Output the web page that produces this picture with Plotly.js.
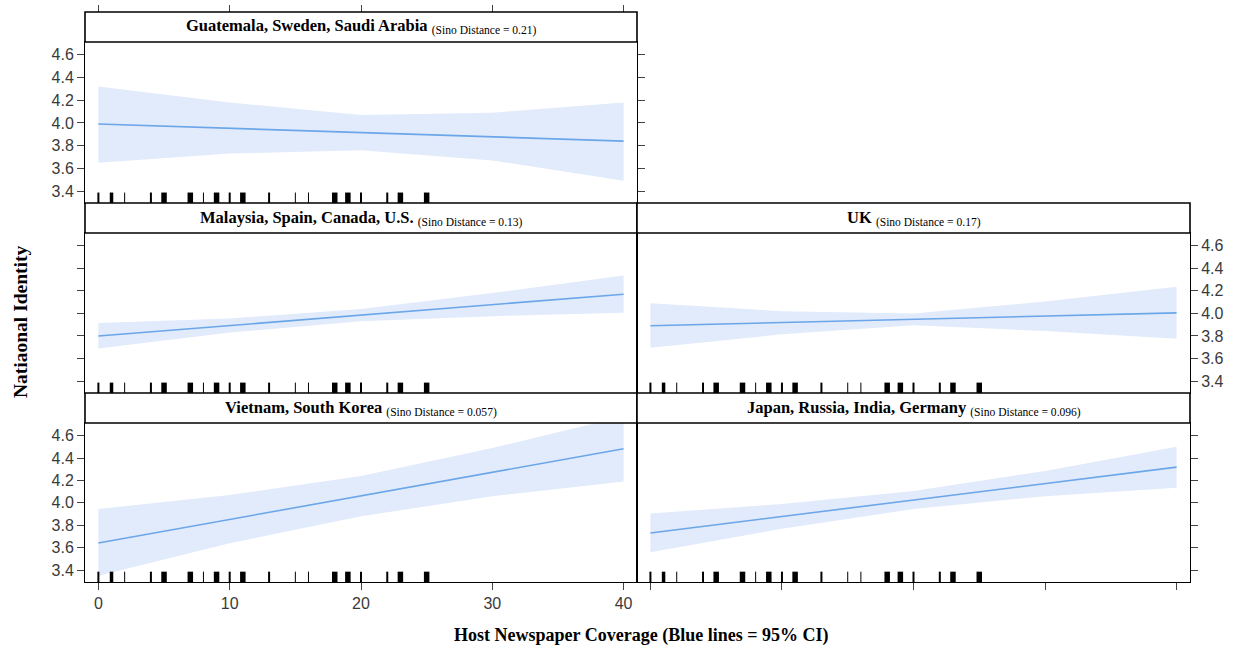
<!DOCTYPE html>
<html>
<head>
<meta charset="utf-8">
<script src="https://cdn.plot.ly/plotly-3.0.1.min.js"></script>
<style>html,body{margin:0;padding:0;background:#fff;}#chart{width:1241px;height:649px;}</style>
</head>
<body>
<div id="chart"></div>
<script>
// ---- data ----
const xLevels = [0, 10, 20, 30, 40];
const yTicks = [3.4, 3.6, 3.8, 4.0, 4.2, 4.4, 4.6];
const xTicks = [0, 10, 20, 30, 40];

const panelNames = ["Guatemala, Sweden, Saudi Arabia", "Malaysia, Spain, Canada, U.S.", "UK", "Vietnam, South Korea", "Japan, Russia, India, Germany"];
const sinoDistance = ["0.21", "0.13", "0.17", "0.057", "0.096"];

const guatFit = [3.99, 3.952, 3.915, 3.877, 3.84];
const guatLo  = [3.65, 3.73, 3.76, 3.67, 3.49];
const guatHi  = [4.32, 4.18, 4.07, 4.09, 4.18];

const malFit = [3.80, 3.893, 3.985, 4.078, 4.17];
const malLo  = [3.69, 3.83, 3.93, 3.975, 4.005];
const malHi  = [3.915, 3.955, 4.04, 4.18, 4.335];

const ukFit = [3.89, 3.919, 3.948, 3.976, 4.005];
const ukLo  = [3.695, 3.815, 3.895, 3.845, 3.775];
const ukHi  = [4.09, 4.02, 4.0, 4.105, 4.235];

const vnFit = [3.643, 3.853, 4.063, 4.272, 4.482];
const vnLo  = [3.35, 3.64, 3.88, 4.06, 4.19];
const vnHi  = [3.945, 4.07, 4.24, 4.49, 4.77];

const jpFit = [3.732, 3.879, 4.026, 4.172, 4.319];
const jpLo  = [3.56, 3.77, 3.945, 4.06, 4.135];
const jpHi  = [3.905, 3.99, 4.105, 4.285, 4.50];

// rug: observed coverage values and approximate number of observations at each
const rugX = [0, 1, 2, 4, 5, 7, 8, 9, 10, 11, 13, 15, 16, 18, 19, 20, 22, 23, 25];
const rugN = [2, 3, 1, 2, 6, 6, 1, 6, 2, 6, 2, 1, 1, 6, 6, 2, 2, 6, 6];

// ---- layout geometry ----
const W = 1241, H = 649;
const colL = [85 / W, 637 / W];
const colR = [637 / W, 1190 / W];
const rowTop = [(H - 203) / H, (H - 42) / H];
const rowMid = [(H - 393) / H, (H - 233) / H];
const rowBot = [(H - 582) / H, (H - 423) / H];
const stripH = 30 / H;
const xRange = [-1.02, 41.02];
const yRange = [3.295, 4.712];

const fitColor = '#6aa6e8';
const bandColor = '#e2ebfb';
const tickFont = {family: 'Liberation Sans, Arial, sans-serif', size: 16, color: '#3a3a3a'};
const serif = 'Liberation Serif, Times New Roman, serif';

const panels = [
  {fit: guatFit, lo: guatLo, hi: guatHi, xa: 'x', ya: 'y', col: colL, row: rowTop},
  {fit: malFit, lo: malLo, hi: malHi, xa: 'x2', ya: 'y2', col: colL, row: rowMid},
  {fit: ukFit, lo: ukLo, hi: ukHi, xa: 'x3', ya: 'y3', col: colR, row: rowMid},
  {fit: vnFit, lo: vnLo, hi: vnHi, xa: 'x4', ya: 'y4', col: colL, row: rowBot},
  {fit: jpFit, lo: jpLo, hi: jpHi, xa: 'x5', ya: 'y5', col: colR, row: rowBot}
];

const traces = [];
const shapes = [];
const annotations = [];

panels.forEach((p, i) => {
  traces.push({x: xLevels, y: p.lo, xaxis: p.xa, yaxis: p.ya, mode: 'lines', line: {width: 0, color: bandColor}, hoverinfo: 'skip', showlegend: false});
  traces.push({x: xLevels, y: p.hi, xaxis: p.xa, yaxis: p.ya, mode: 'lines', fill: 'tonexty', fillcolor: bandColor, line: {width: 0, color: bandColor}, hoverinfo: 'skip', showlegend: false});
  traces.push({x: xLevels, y: p.fit, xaxis: p.xa, yaxis: p.ya, mode: 'lines', line: {width: 1.6, color: fitColor}, showlegend: false});
  // rug
  rugX.forEach((v, j) => {
    const w = rugN[j] >= 6 ? 5.5 : (rugN[j] >= 3 ? 3.5 : (rugN[j] === 2 ? 2 : 1));
    shapes.push({type: 'line', xref: p.xa, yref: p.ya + ' domain', x0: v, x1: v, y0: 0, y1: 0.065, line: {color: '#000', width: w}});
  });
  // strip
  shapes.push({type: 'rect', xref: 'paper', yref: 'paper', x0: p.col[0], x1: p.col[1], y0: p.row[1], y1: p.row[1] + stripH, line: {color: '#000', width: 1.6}, fillcolor: '#fff', layer: 'above'});
  annotations.push({xref: 'paper', yref: 'paper', x: (p.col[0] + p.col[1]) / 2, y: p.row[1] + stripH / 2, xanchor: 'center', yanchor: 'middle', showarrow: false,
    text: '<b>' + panelNames[i] + '</b> <sub>(Sino Distance = ' + sinoDistance[i] + ')</sub>',
    font: {family: serif, size: 16.5, color: '#000'}});
});

// extra axis for the top ticks above the first strip
traces.push({x: [], y: [], xaxis: 'x6', yaxis: 'y', showlegend: false});

function xa(dom, opts) {
  return Object.assign({domain: dom, range: xRange, showgrid: false, zeroline: false, showline: true, mirror: true, linecolor: '#000', linewidth: 1,
    tickvals: xTicks, ticks: '', showticklabels: false, ticklen: 7, tickcolor: '#444', tickfont: tickFont, fixedrange: true}, opts || {});
}
function ya(dom, opts) {
  return Object.assign({domain: dom, range: yRange, showgrid: false, zeroline: false, showline: true, mirror: true, linecolor: '#000', linewidth: 1,
    tickvals: yTicks, ticktext: yTicks.map(v => v.toFixed(1)), ticks: 'outside', ticklen: 7, tickcolor: '#444', showticklabels: false, tickfont: tickFont, fixedrange: true}, opts || {});
}

const layout = {
  width: W, height: H,
  margin: {l: 0, r: 0, t: 0, b: 0},
  paper_bgcolor: '#fff', plot_bgcolor: '#fff',
  showlegend: false,
  xaxis: xa(colL, {anchor: 'y'}),
  yaxis: ya(rowTop, {anchor: 'x', side: 'left', showticklabels: true, mirror: 'ticks'}),
  xaxis2: xa(colL, {anchor: 'y2'}),
  yaxis2: ya(rowMid, {anchor: 'x2', side: 'left'}),
  xaxis3: xa(colR, {anchor: 'y3'}),
  yaxis3: ya(rowMid, {anchor: 'x3', side: 'right', showticklabels: true}),
  xaxis4: xa(colL, {anchor: 'y4', ticks: 'outside', showticklabels: true, ticktext: xTicks.map(String)}),
  yaxis4: ya(rowBot, {anchor: 'x4', side: 'left', showticklabels: true}),
  xaxis5: xa(colR, {anchor: 'y5', ticks: 'outside'}),
  yaxis5: ya(rowBot, {anchor: 'x5', side: 'right'}),
  xaxis6: {overlaying: 'x', anchor: 'free', position: rowTop[1] + stripH, side: 'top', range: xRange, tickvals: xTicks, ticks: 'outside', ticklen: 7, tickcolor: '#444',
    showticklabels: false, showline: false, showgrid: false, zeroline: false, fixedrange: true},
  shapes: shapes,
  annotations: annotations.concat([
    {xref: 'paper', yref: 'paper', x: 20 / W, y: (H - 322) / H, textangle: -90, showarrow: false, xanchor: 'center', yanchor: 'middle',
      text: '<b>Natiaonal Identity</b>', font: {family: serif, size: 19.5, color: '#000'}},
    {xref: 'paper', yref: 'paper', x: 641 / W, y: (H - 635) / H, showarrow: false, xanchor: 'center', yanchor: 'middle',
      text: '<b>Host Newspaper Coverage (Blue lines = 95% CI)</b>', font: {family: serif, size: 18, color: '#000'}}
  ])
};

Plotly.newPlot('chart', traces, layout, {displayModeBar: false, staticPlot: true});
</script>
</body>
</html>
